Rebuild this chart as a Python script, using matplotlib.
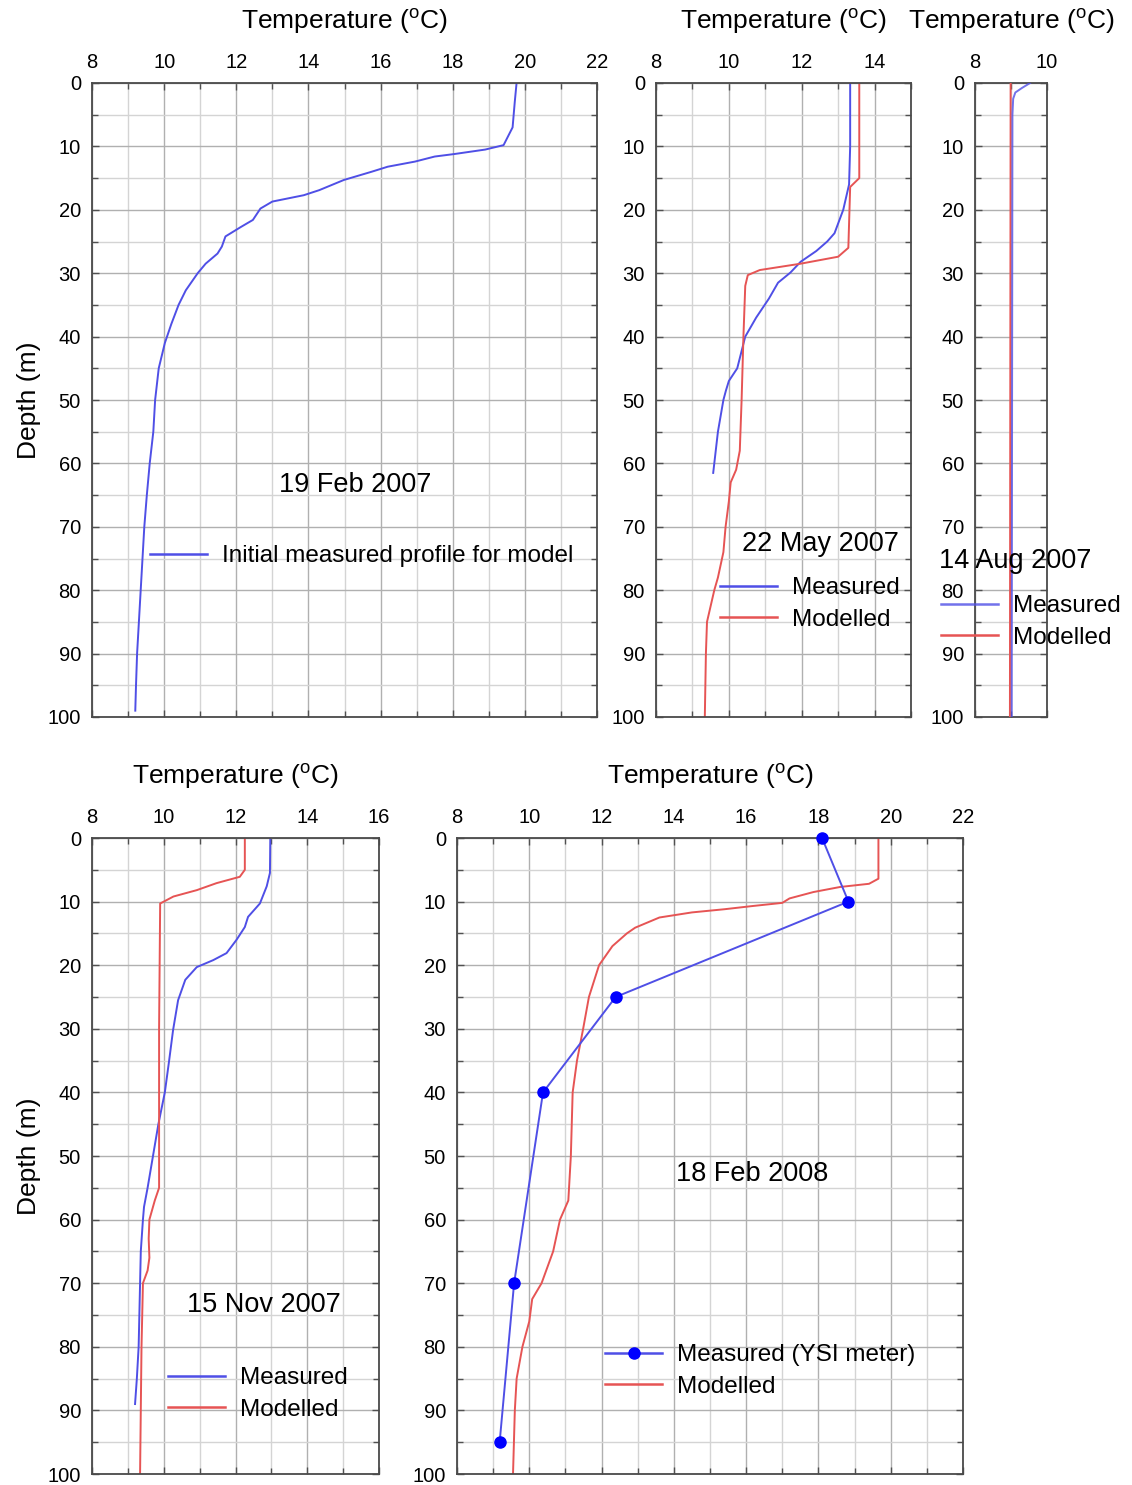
import matplotlib
matplotlib.use("Agg")
import matplotlib.pyplot as plt
from matplotlib.ticker import MultipleLocator

# ---------------- data ----------------
# 19 Feb 2007 - initial measured profile
depth_feb07 = [0, 3, 7, 9.8, 10.5, 11.2, 11.6, 12.4, 13.2, 14, 15.3, 16.9, 17.7, 18.7, 19.8,
               21.6, 22.7, 24.2, 25.8, 26.9, 28.5, 30, 32.7, 35, 38, 41, 45, 50, 55, 60,
               65, 70, 75, 80, 85, 90, 95, 99]
temp_feb07 = [19.77, 19.72, 19.66, 19.41, 18.9, 18.05, 17.5, 16.95, 16.2, 15.75, 14.98, 14.3,
              13.87, 13.0, 12.67, 12.46, 12.13, 11.7, 11.6, 11.48, 11.15, 10.93, 10.6, 10.4,
              10.2, 10.02, 9.85, 9.75, 9.7, 9.6, 9.52, 9.45, 9.4, 9.35, 9.3, 9.25, 9.22, 9.2]

# 22 May 2007
depth_may07_meas = [0, 10, 16, 20, 23.7, 25, 26.5, 28.2, 29.9, 31.5, 34, 37, 40, 45, 47, 48.5,
                    50, 55, 60, 61.5]
temp_may07_meas = [13.33, 13.33, 13.3, 13.14, 12.9, 12.7, 12.4, 11.97, 11.69, 11.35, 11.1,
                   10.75, 10.45, 10.23, 10.0, 9.92, 9.85, 9.7, 9.6, 9.57]
depth_may07_mod = [0, 15, 16.4, 26, 27.4, 28.5, 29.5, 30.3, 32, 40, 50, 58, 61, 63, 66, 70,
                   74, 78, 80, 85, 90, 100]
temp_may07_mod = [13.58, 13.58, 13.33, 13.28, 13.0, 11.97, 10.85, 10.52, 10.45, 10.4, 10.35,
                  10.3, 10.2, 10.05, 10.0, 9.91, 9.85, 9.7, 9.6, 9.4, 9.37, 9.34]

# 14 Aug 2007
depth_aug07_meas = [0, 0.8, 1.5, 2.5, 5, 50, 100]
temp_aug07_meas = [9.53, 9.3, 9.12, 9.06, 9.04, 9.03, 9.02]
depth_aug07_mod = [0, 50, 100]
temp_aug07_mod = [8.99, 8.98, 8.97]

# 15 Nov 2007
depth_nov07_meas = [0, 5.5, 7.6, 10.3, 12.4, 14, 16, 18.1, 19.2, 20.3, 22.3, 25.5, 30.2, 35,
                    40, 45, 50, 55, 58, 60, 65, 70, 80, 85, 89]
temp_nov07_meas = [12.97, 12.96, 12.87, 12.68, 12.35, 12.26, 12.03, 11.75, 11.38, 10.92, 10.6,
                   10.4, 10.26, 10.15, 10.03, 9.85, 9.7, 9.55, 9.45, 9.42, 9.36, 9.34, 9.3,
                   9.25, 9.2]
depth_nov07_mod = [0, 5, 6.1, 7.1, 8.2, 9.2, 10.3, 30, 50, 55, 57, 60, 63, 66, 68, 70, 75, 80,
                   90, 100]
temp_nov07_mod = [12.26, 12.26, 12.12, 11.47, 10.92, 10.27, 9.9, 9.87, 9.87, 9.87, 9.75, 9.6,
                  9.58, 9.6, 9.55, 9.42, 9.4, 9.38, 9.36, 9.34]

# 18 Feb 2008
depth_feb08_meas = [0, 10, 25, 40, 70, 95]
temp_feb08_meas = [18.1, 18.83, 12.39, 10.38, 9.58, 9.18]
depth_feb08_mod = [0, 6.4, 7.2, 7.7, 8.5, 9.5, 10.2, 10.7, 11.2, 11.7, 12.5, 14.1, 15, 17, 20,
                   25, 30, 35, 40, 50, 57, 60, 65, 70, 72.5, 76, 80, 85, 90, 100]
temp_feb08_mod = [19.66, 19.66, 19.4, 18.6, 17.86, 17.2, 17.0, 16.17, 15.4, 14.5, 13.6, 12.93,
                  12.7, 12.3, 11.93, 11.65, 11.49, 11.32, 11.2, 11.15, 11.08, 10.85, 10.66,
                  10.34, 10.08, 10.0, 9.81, 9.65, 9.6, 9.55]

xlims = {"feb07": (8, 22), "may07": (8, 15), "aug07": (8, 10), "nov07": (8, 16), "feb08": (8, 22)}
dates = {"feb07": "19 Feb 2007", "may07": "22 May 2007", "aug07": "14 Aug 2007",
         "nov07": "15 Nov 2007", "feb08": "18 Feb 2008"}

# ---------------- style ----------------
plt.rcParams["font.family"] = ["Liberation Sans", "DejaVu Sans"]
plt.rcParams["mathtext.fontset"] = "custom"
plt.rcParams["mathtext.rm"] = "Liberation Sans"

BLUE = "#4f4fe6"
RED = "#e65454"
MARK = "#0000ff"
W, H = 1132, 1485

fig = plt.figure(figsize=(W / 100, H / 100), dpi=100)


def fx(x, y):
    return (x / W, 1 - y / H)


def make_ax(x0, x1, y0, y1, key, ylabel=False):
    ax = fig.add_axes([x0 / W, 1 - y1 / H, (x1 - x0) / W, (y1 - y0) / H])
    ax.set_xlim(*xlims[key])
    ax.set_ylim(100, 0)
    ax.xaxis.set_major_locator(MultipleLocator(2))
    ax.xaxis.set_minor_locator(MultipleLocator(1))
    ax.yaxis.set_major_locator(MultipleLocator(10))
    ax.yaxis.set_minor_locator(MultipleLocator(5))
    ax.xaxis.set_label_position("top")
    ax.tick_params(which="both", direction="in", top=True, bottom=True, left=True, right=True,
                   labeltop=True, labelbottom=False, color="#505050")
    ax.tick_params(which="major", length=5, width=1, labelsize=14.5, pad=8)
    ax.tick_params(which="minor", length=4, width=1)
    ax.grid(which="major", color="#b0b0b0", lw=1.0)
    ax.grid(which="minor", color="#d4d4d4", lw=1.0)
    ax.set_axisbelow(True)
    for s in ax.spines.values():
        s.set_color("#4a4a4a")
        s.set_linewidth(1.3)
    ax.set_xlabel(r"Temperature ($^{\rm o}$C)", fontsize=19, labelpad=17)
    if ylabel:
        ax.set_ylabel("Depth (m)", fontsize=19, labelpad=5)
    return ax


def legend(ax, x, y, **kw):
    opts = dict(loc="center left", bbox_to_anchor=fx(x, y), bbox_transform=fig.transFigure,
                frameon=False, borderpad=0, borderaxespad=0, handlelength=2.35,
                handletextpad=0.6, labelspacing=0.4, fontsize=17.5)
    opts.update(kw)
    leg = ax.legend(**opts)
    for ln in leg.get_lines():
        ln.set_linewidth(1.8)
    return leg


LW = 1.4

# Panel 1
ax1 = make_ax(92, 597, 83, 717, "feb07", ylabel=True)
ax1.plot(temp_feb07, depth_feb07, color=BLUE, lw=LW, label="Initial measured profile for model")
legend(ax1, 150, 556)
fig.text(*fx(355, 485), dates["feb07"], fontsize=19.5, ha="center", va="center")

# Panel 2
ax2 = make_ax(656, 911, 83, 717, "may07")
ax2.plot(temp_may07_meas, depth_may07_meas, color=BLUE, lw=LW, label="Measured")
ax2.plot(temp_may07_mod, depth_may07_mod, color=RED, lw=LW, label="Modelled")
legend(ax2, 720, 604)
fig.text(*fx(820, 544), dates["may07"], fontsize=19.5, ha="center", va="center")

# Panel 3
ax3 = make_ax(975, 1047, 83, 717, "aug07")
ax3.plot(temp_aug07_mod, depth_aug07_mod, color=RED, lw=LW, label="Modelled", zorder=3)
ax3.plot(temp_aug07_meas, depth_aug07_meas, color=BLUE, lw=LW, label="Measured", zorder=3, alpha=0.8)
h, l = ax3.get_legend_handles_labels()
legend(ax3, 941, 622, handles=h[::-1], labels=l[::-1])
fig.text(*fx(1015, 561), dates["aug07"], fontsize=19.5, ha="center", va="center")

# Panel 4
ax4 = make_ax(92, 379, 838, 1474, "nov07", ylabel=True)
ax4.plot(temp_nov07_meas, depth_nov07_meas, color=BLUE, lw=LW, label="Measured")
ax4.plot(temp_nov07_mod, depth_nov07_mod, color=RED, lw=LW, label="Modelled")
legend(ax4, 168, 1394)
fig.text(*fx(264, 1305), dates["nov07"], fontsize=19.5, ha="center", va="center")

# Panel 5
ax5 = make_ax(457, 963, 838, 1474, "feb08")
ax5.plot(temp_feb08_meas, depth_feb08_meas, color=BLUE, lw=LW, marker="o", ms=8,
         mfc=MARK, mec=MARK, label="Measured (YSI meter)", clip_on=False, zorder=4)
ax5.plot(temp_feb08_mod, depth_feb08_mod, color=RED, lw=LW, label="Modelled")
legend(ax5, 605, 1371)
fig.text(*fx(752, 1174), dates["feb08"], fontsize=19.5, ha="center", va="center")

fig.savefig("out.png", dpi=100)
